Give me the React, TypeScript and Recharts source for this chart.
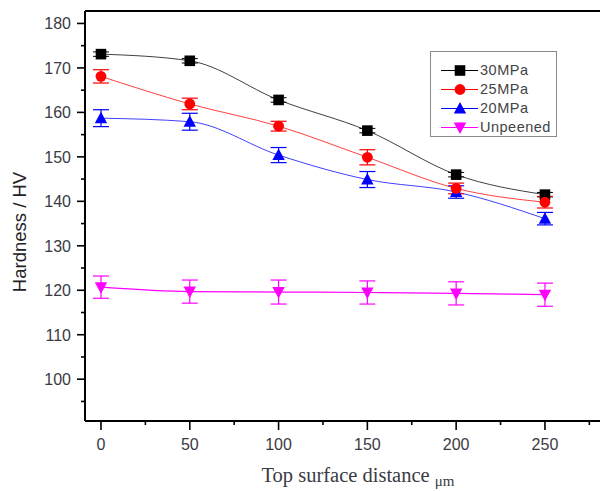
import React from 'react';
import { LineChart, Line, XAxis, YAxis, ErrorBar, Legend, ReferenceLine, Label } from 'recharts';

const distances = [0, 50, 100, 150, 200, 250];
const mpa30 = [173.1, 171.6, 162.8, 155.9, 146.0, 141.5];
const mpa25 = [168.1, 161.9, 156.9, 149.9, 142.9, 139.8];
const mpa20 = [158.7, 157.9, 150.4, 144.9, 142.1, 136.1];
const unpeened = [120.7, 119.7, 119.6, 119.5, 119.3, 119.0];
const err30 = [0.5, 0.5, 0.5, 0.5, 0.5, 0.5];
const err25 = [1.5, 1.3, 1.1, 1.7, 1.2, 1.3];
const err20 = [1.9, 1.9, 1.7, 1.8, 1.4, 1.4];
const errUn = [2.5, 2.6, 2.7, 2.6, 2.6, 2.6];

const xTicks = [0, 25, 50, 75, 100, 125, 150, 175, 200, 225, 250, 275];
const xMajor = [0, 50, 100, 150, 200, 250];
const yTicks = [95, 100, 105, 110, 115, 120, 125, 130, 135, 140, 145, 150, 155, 160, 165, 170, 175, 180];
const yMajor = [100, 110, 120, 130, 140, 150, 160, 170, 180];

const X_DOMAIN = [-9, 281];
const Y_DOMAIN = [90.6, 182.8];

const seriesNames = ['30MPa', '25MPa', '20MPa', 'Unpeened'];
const seriesColors = ['#000000', '#ff0000', '#0000ff', '#ff00ff'];
const seriesShapes = ['square', 'circle', 'triangle', 'down'];

const data = distances.map((d, i) => ({
  d,
  s30: mpa30[i],
  s25: mpa25[i],
  s20: mpa20[i],
  sun: unpeened[i],
  e30: err30[i],
  e25: err25[i],
  e20: err20[i],
  eun: errUn[i],
}));

const FONT = '"Liberation Sans", Arial, sans-serif';
const TEXT = '#3a3a44';

function Marker({ shape, cx, cy, color }: { shape: string; cx: number; cy: number; color: string }) {
  if (shape === 'square') {
    return <rect x={cx - 5.3} y={cy - 5.3} width={10.6} height={10.6} fill={color} />;
  }
  if (shape === 'circle') {
    return <circle cx={cx} cy={cy} r={5.4} fill={color} />;
  }
  if (shape === 'triangle') {
    return <polygon points={`${cx},${cy - 6.5} ${cx + 6.2},${cy + 5} ${cx - 6.2},${cy + 5}`} fill={color} />;
  }
  return <polygon points={`${cx},${cy + 6.5} ${cx + 6.2},${cy - 5} ${cx - 6.2},${cy - 5}`} fill={color} />;
}

const makeDot = (idx: number) => (props: any) => {
  const { cx, cy, index } = props;
  if (cx == null || cy == null) return <g key={`d-${idx}-${index}`} />;
  return (
    <g key={`d-${idx}-${index}`}>
      <Marker shape={seriesShapes[idx]} cx={cx} cy={cy} color={seriesColors[idx]} />
    </g>
  );
};

const XTick = (props: any) => {
  const { x, y, payload } = props;
  const major = xMajor.includes(payload.value);
  return (
    <g>
      <line x1={x} y1={y} x2={x} y2={y + (major ? 9 : 4)} stroke="#000" strokeWidth={1.6} />
      {major && (
        <text x={x} y={y + 29} textAnchor="middle" fontSize={16} fontFamily={FONT} fill={TEXT}>
          {payload.value}
        </text>
      )}
    </g>
  );
};

const YTick = (props: any) => {
  const { x, y, payload } = props;
  const major = yMajor.includes(payload.value);
  return (
    <g>
      <line x1={x} y1={y} x2={x - (major ? 8 : 4)} y2={y} stroke="#000" strokeWidth={1.6} />
      {major && (
        <text x={x - 14} y={y + 6} textAnchor="end" fontSize={16} fontFamily={FONT} fill={TEXT}>
          {payload.value}
        </text>
      )}
    </g>
  );
};

const LegendContent = () => (
  <div
    style={{
      width: 127,
      height: 86,
      border: '1px solid #8a8a8a',
      background: '#fff',
      boxSizing: 'border-box',
      paddingTop: 9,
    }}
  >
    {seriesNames.map((name, i) => (
      <div key={name} style={{ display: 'flex', alignItems: 'center', height: 19 }}>
        <svg width={49} height={19} style={{ display: 'block' }}>
          <line x1={10} y1={9.5} x2={47} y2={9.5} stroke={seriesColors[i]} strokeWidth={1} />
          <Marker shape={seriesShapes[i]} cx={29} cy={9.5} color={seriesColors[i]} />
        </svg>
        <span style={{ fontFamily: FONT, fontSize: 14.5, color: '#444', letterSpacing: 0.5, lineHeight: '19px' }}>
          {name}
        </span>
      </div>
    ))}
  </div>
);

export default function App() {
  return (
    <div style={{ position: 'absolute', left: 0, top: 0, width: 600, height: 491, overflow: 'hidden', background: '#fff' }}>
      <LineChart width={600} height={491} data={data} margin={{ top: 11, right: 0, bottom: 0, left: 0 }}>
        <XAxis
          dataKey="d"
          type="number"
          domain={X_DOMAIN}
          allowDataOverflow
          ticks={xTicks}
          interval={0}
          height={70}
          tickSize={0}
          tickMargin={0}
          tickLine={false}
          tick={<XTick />}
          axisLine={{ stroke: '#000', strokeWidth: 2 }}
        >
          <Label
            content={() => (
              <text x={358} y={482} textAnchor="middle" fontFamily='"Liberation Serif", "Times New Roman", serif' fontSize={20.5} fill={TEXT}>
                Top surface distance{' '}
                <tspan fontSize={15} dy={4}>
                  μm
                </tspan>
              </text>
            )}
          />
        </XAxis>
        <YAxis
          type="number"
          domain={Y_DOMAIN}
          allowDataOverflow
          ticks={yTicks}
          interval={0}
          width={85}
          tickSize={0}
          tickMargin={0}
          tickLine={false}
          tick={<YTick />}
          axisLine={{ stroke: '#000', strokeWidth: 2 }}
        >
          <Label
            content={() => (
              <text
                x={26}
                y={232}
                transform="rotate(-90 26 232)"
                textAnchor="middle"
                fontFamily={FONT}
                fontSize={18.5}
                fill="#222"
              >
                Hardness / HV
              </text>
            )}
          />
        </YAxis>
        <ReferenceLine y={Y_DOMAIN[1]} stroke="#000" strokeWidth={2} ifOverflow="visible" />
        <Legend
          layout="vertical"
          align="center"
          verticalAlign="middle"
          content={<LegendContent />}
          wrapperStyle={{ position: 'absolute', left: 430, top: 51, width: 127, height: 86 }}
        />
        <Line
          dataKey="sun"
          name="Unpeened"
          type="monotone"
          stroke="#ff00ff"
          strokeWidth={1.2}
          dot={makeDot(3)}
          activeDot={false}
          isAnimationActive={false}
        >
          <ErrorBar dataKey="eun" width={8} stroke="#ff00ff" strokeWidth={1.2} direction="y" />
        </Line>
        <Line
          dataKey="s30"
          name="30MPa"
          type="monotone"
          stroke="#000000"
          strokeWidth={1}
          strokeOpacity={0.75}
          dot={makeDot(0)}
          activeDot={false}
          isAnimationActive={false}
        >
          <ErrorBar dataKey="e30" width={8} stroke="#000000" strokeWidth={1} direction="y" />
        </Line>
        <Line
          dataKey="s20"
          name="20MPa"
          type="monotone"
          stroke="#0000ff"
          strokeWidth={1}
          strokeOpacity={0.75}
          dot={makeDot(2)}
          activeDot={false}
          isAnimationActive={false}
        >
          <ErrorBar dataKey="e20" width={8} stroke="#0000ff" strokeWidth={1.2} direction="y" />
        </Line>
        <Line
          dataKey="s25"
          name="25MPa"
          type="monotone"
          stroke="#ff0000"
          strokeWidth={1}
          strokeOpacity={0.75}
          dot={makeDot(1)}
          activeDot={false}
          isAnimationActive={false}
        >
          <ErrorBar dataKey="e25" width={8} stroke="#ff0000" strokeWidth={1.2} direction="y" />
        </Line>
      </LineChart>
    </div>
  );
}
